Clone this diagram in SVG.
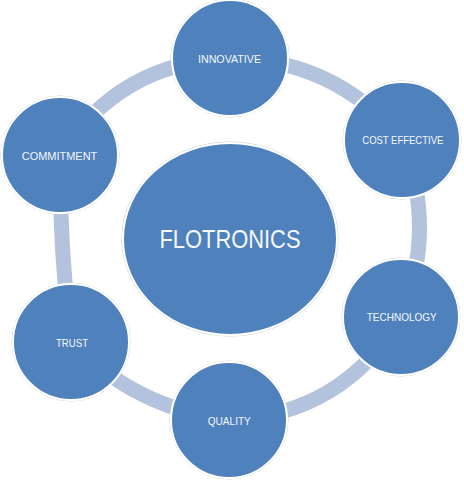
<svg xmlns="http://www.w3.org/2000/svg" width="464" height="480" viewBox="0 0 464 480">
<style>
.ring{fill:none;stroke:#b3c3dd;stroke-width:15}
.halo{fill:none;stroke:#c8ccd2;stroke-width:1}
.node{fill:#4f81bd;stroke:#ffffff;stroke-width:2}
.lbl{font-family:"Liberation Sans",Arial,sans-serif;font-size:11.5px;fill:#f4f7fb;text-anchor:middle}
.big{font-family:"Liberation Sans",Arial,sans-serif;font-size:26px;fill:#f7f9fc;text-anchor:middle}
</style>
<rect width="464" height="480" fill="#ffffff"/>
<g id="connectors">
<path class="ring" d="M230,58 Q334.9,59.3 402,140"/>
<path class="ring" d="M402,140 Q437.5,228.7 401,317"/>
<path class="ring" d="M401,317 Q342.7,414.7 229,420"/>
<path class="ring" d="M229,420 Q136.4,408.6 71,342"/>
<path class="ring" d="M71,342 Q59.5,248.9 60,155"/>
<path class="ring" d="M60,155 Q119.9,62.5 230,58"/>
</g>
<g id="flotronics">
<ellipse class="halo" cx="230" cy="239" rx="108" ry="97"/>
<ellipse class="node" cx="230" cy="239" rx="107" ry="96"/>
<text class="big" x="230" y="248" textLength="141" lengthAdjust="spacingAndGlyphs">FLOTRONICS</text>
</g>
<g id="innovative">
<circle class="halo" cx="230" cy="58" r="59"/>
<circle class="node" cx="230" cy="58" r="58"/>
<text class="lbl" x="229.5" y="62.5" textLength="63" lengthAdjust="spacingAndGlyphs">INNOVATIVE</text>
</g>
<g id="cost-effective">
<circle class="halo" cx="402" cy="140" r="59"/>
<circle class="node" cx="402" cy="140" r="58"/>
<text class="lbl" x="402.8" y="144" textLength="81" lengthAdjust="spacingAndGlyphs">COST EFFECTIVE</text>
</g>
<g id="technology">
<circle class="halo" cx="401" cy="317" r="59"/>
<circle class="node" cx="401" cy="317" r="58"/>
<text class="lbl" x="401.7" y="321" textLength="70" lengthAdjust="spacingAndGlyphs">TECHNOLOGY</text>
</g>
<g id="quality">
<circle class="halo" cx="229" cy="420" r="59"/>
<circle class="node" cx="229" cy="420" r="58"/>
<text class="lbl" x="229.3" y="425" textLength="43" lengthAdjust="spacingAndGlyphs">QUALITY</text>
</g>
<g id="trust">
<circle class="halo" cx="71" cy="342" r="59"/>
<circle class="node" cx="71" cy="342" r="58"/>
<text class="lbl" x="72" y="346.5" textLength="32" lengthAdjust="spacingAndGlyphs">TRUST</text>
</g>
<g id="commitment">
<circle class="halo" cx="60" cy="155" r="59"/>
<circle class="node" cx="60" cy="155" r="58"/>
<text class="lbl" x="59.5" y="160" textLength="75.5" lengthAdjust="spacingAndGlyphs">COMMITMENT</text>
</g>
</svg>
